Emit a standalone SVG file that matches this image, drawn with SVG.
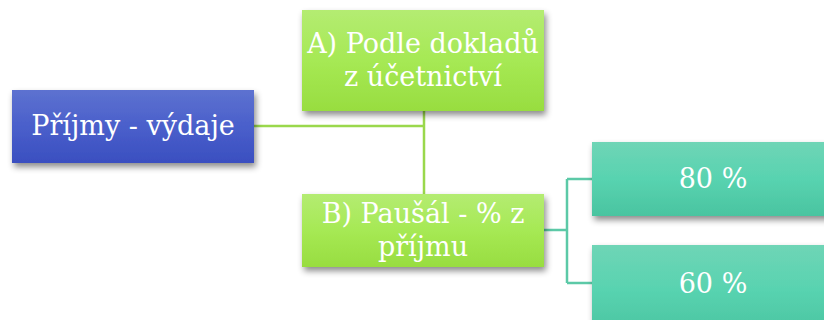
<svg xmlns="http://www.w3.org/2000/svg" width="824" height="320" viewBox="0 0 824 320">
<defs>
<linearGradient id="gBlue" x1="0" y1="0" x2="0" y2="1"><stop offset="0" stop-color="#5d72d0"/><stop offset="0.5" stop-color="#4a5fcb"/><stop offset="1" stop-color="#3a4fc0"/></linearGradient>
<linearGradient id="gGreen" x1="0" y1="0" x2="0" y2="1"><stop offset="0" stop-color="#b4ec72"/><stop offset="0.5" stop-color="#a6e954"/><stop offset="1" stop-color="#98dd40"/></linearGradient>
<linearGradient id="gTeal" x1="0" y1="0" x2="0" y2="1"><stop offset="0" stop-color="#6fd5b6"/><stop offset="0.5" stop-color="#58d3b0"/><stop offset="1" stop-color="#4ac4a0"/></linearGradient>
<filter id="sh" x="-10%" y="-20%" width="125%" height="150%"><feDropShadow dx="2" dy="4" stdDeviation="3" flood-color="#000" flood-opacity="0.45"/></filter>
</defs>
<style>
.t{font-family:"DejaVu Serif","Liberation Serif",serif;font-size:27px;fill:#fff;text-anchor:middle}
.cg{fill:none;stroke:#9ad84c;stroke-width:2.5}
.ct{fill:none;stroke:#5cc9a7;stroke-width:2.5}
</style>
<g id="connectors">
<path class="cg" d="M254 126 H424 M424 111 V194"/>
<path class="ct" d="M544 230 H567 M567 179 V283 M567 179 H592 M567 283 H592"/>
</g>
<g id="n-prijmy"><rect x="12" y="90" width="242" height="73" fill="url(#gBlue)" filter="url(#sh)"/><text class="t" x="133" y="135">Příjmy - výdaje</text></g>
<g id="n-a"><rect x="302" y="10" width="242" height="101" fill="url(#gGreen)" filter="url(#sh)"/><text class="t" x="423" y="53">A) Podle dokladů</text><text class="t" x="423" y="86">z účetnictví</text></g>
<g id="n-b"><rect x="302" y="194" width="242" height="73" fill="url(#gGreen)" filter="url(#sh)"/><text class="t" x="423" y="223">B) Paušál - % z</text><text class="t" x="423" y="256">příjmu</text></g>
<g id="n-80"><rect x="592" y="142" width="242" height="74" fill="url(#gTeal)" filter="url(#sh)"/><text class="t" x="713" y="188">80 %</text></g>
<g id="n-60"><rect x="592" y="245" width="242" height="90" fill="url(#gTeal)" filter="url(#sh)"/><text class="t" x="713" y="293">60 %</text></g>
</svg>
